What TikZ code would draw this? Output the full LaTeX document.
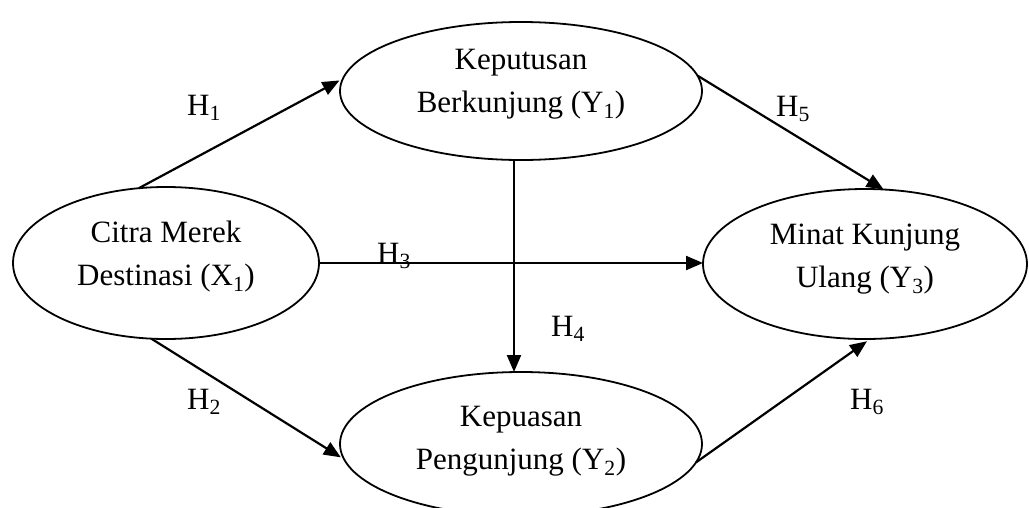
\documentclass[tikz,border=0pt]{standalone}
\usepackage{fontspec}
\setmainfont{Liberation Serif}
\usetikzlibrary{shapes.geometric,arrows.meta}
\begin{document}
\begin{tikzpicture}[x=1pt,y=-1pt,
  var/.style={ellipse,draw,line width=1.8pt,inner sep=0pt,outer sep=0pt},
  txt/.style={font=\fontsize{31}{43}\selectfont,align=center,inner sep=0pt},
  hyp/.style={font=\fontsize{31}{43}\selectfont,anchor=base west,inner sep=0pt},
  link/.style={line width=2.2pt,-{Triangle[length=17pt,width=14pt]}}]
\useasboundingbox (0,0) rectangle (1029,507);

% latent variables
\node[var,minimum width=306pt,minimum height=152pt] (x1) at (166,263) {};
\node[var,minimum width=362pt,minimum height=138pt] (y1) at (521,91) {};
\node[var,minimum width=362pt,minimum height=144pt] (y2) at (521,444) {};
\node[var,minimum width=324pt,minimum height=150pt] (y3) at (865,264) {};

\node[txt] (x1t) at (166,257) {Citra Merek\\Destinasi (X\textsubscript{1})};
\node[txt] (y1t) at (521,84) {Keputusan\\Berkunjung (Y\textsubscript{1})};
\node[txt] (y2t) at (521,441) {Kepuasan\\Pengunjung (Y\textsubscript{2})};
\node[txt] (y3t) at (865,259) {Minat Kunjung\\Ulang (Y\textsubscript{3})};

% hypothesised paths
\draw[link,shorten >=4pt] (x1.110) -- (y1.176);
\draw[link,shorten >=4pt] (x1.259) -- (y2.185);
\draw[link] (x1.east) -- (x1.east -| y3.west);
\draw[link] ([xshift=-7pt]y1.south) -- ([xshift=-7pt]y2.north);
\draw[link] (y1.5) -- (y3.76);
\draw[link,shorten >=4pt] (y2.-6) -- (y3.274);

% hypothesis labels
\node[hyp] (h1) at (187,115) {H\textsubscript{1}};
\node[hyp] (h2) at (187,409) {H\textsubscript{2}};
\node[hyp] (h3) at (377,263) {H\textsubscript{3}};
\node[hyp] (h4) at (551,336) {H\textsubscript{4}};
\node[hyp] (h5) at (776,116) {H\textsubscript{5}};
\node[hyp] (h6) at (850,409) {H\textsubscript{6}};
\end{tikzpicture}
\end{document}
